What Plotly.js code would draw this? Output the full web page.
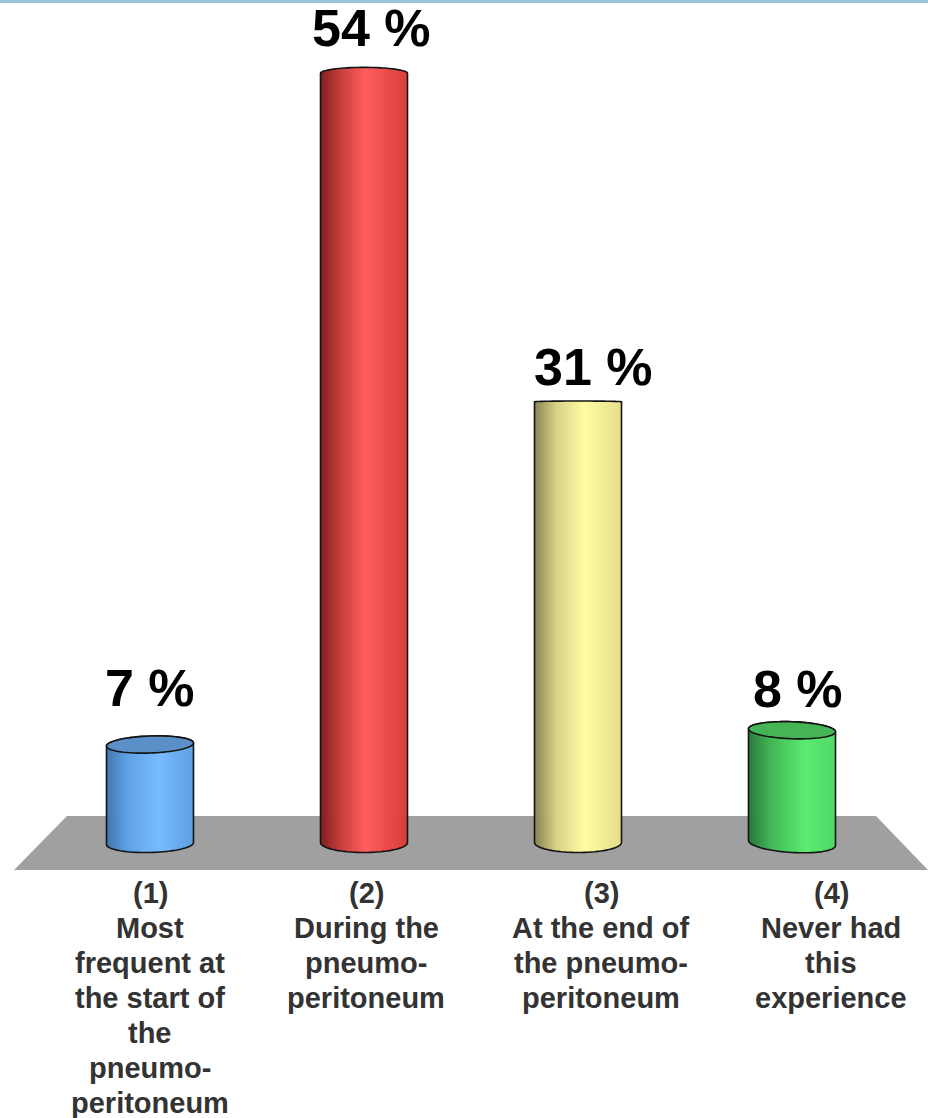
<!DOCTYPE html>
<html>
<head>
<meta charset="utf-8">
<script src="https://cdn.plot.ly/plotly-3.0.1.min.js"></script>
<style>html,body{margin:0;padding:0;background:#fff}#chart{width:928px;height:1118px}</style>
</head>
<body>
<div id="chart"></div>
<script>
// Survey answers, in percent
const answers = [1, 2, 3, 4];
const percentages = [7, 54, 31, 8];
const valueLabels = ['7 %', '54 %', '31 %', '8 %'];
const categoryLines = [
  ['(1)', 'Most', 'frequent at', 'the start of', 'the', 'pneumo-', 'peritoneum'],
  ['(2)', 'During the', 'pneumo-', 'peritoneum'],
  ['(3)', 'At the end of', 'the pneumo-', 'peritoneum'],
  ['(4)', 'Never had', 'this', 'experience']
];

// Canvas geometry
const W = 928, H = 1118;
const x0px = 150, xStep = 214;        // pixel centre of answer 1, spacing between answers
const y0px = 844.5, yScale = 14.28;   // pixel of 0 %, pixels per 1 %
const xRange = [(0 - x0px) / xStep + 1, (W - x0px) / xStep + 1];
const yRange = [(y0px - H) / yScale, y0px / yScale];
const pxX = p => p / xStep;           // horizontal pixel length in axis units
const pxY = p => p / yScale;          // vertical pixel length in axis units

// Cylinder look
const cylWidth = 87;
const stripPx = 2;
const shading = [
  [[0, '#3f74ad'], [0.25, '#5fa3e6'], [0.62, '#78bcff'], [1, '#5b9fe2']],
  [[0, '#7a1d1d'], [0.22, '#c43c3a'], [0.52, '#ff5f5f'], [1, '#d63c3a']],
  [[0, '#85804f'], [0.25, '#d8d086'], [0.58, '#fffca2'], [1, '#e6de8c']],
  [[0, '#27743a'], [0.25, '#41b555'], [0.66, '#5cec72'], [1, '#4fd866']]
];
const capFaces = ['#5b8fc8', null, null, '#45b455'];
const capRise = [8.5, 6, 0.8, 8.5];   // half height of the top ellipse, px
const capTilt = [-1.5, 0, 0, 1.5];    // rise of the ellipse towards its right end, px
const baseLift = [1, 2, 2, 1.5];      // bottom ellipse centre above the 0 % line, px
const baseDrop = [9, 10, 10, 9.5];    // half height of the bottom ellipse, px
const baseTilt = [-1, 0, 0, 2.5];

const hex = c => [1, 3, 5].map(i => parseInt(c.slice(i, i + 2), 16));
function shadeAt(stops, t) {
  for (let i = 1; i < stops.length; i++) {
    if (t <= stops[i][0]) {
      const f = (t - stops[i - 1][0]) / (stops[i][0] - stops[i - 1][0]);
      const a = hex(stops[i - 1][1]), b = hex(stops[i][1]);
      return 'rgb(' + a.map((v, k) => Math.round(v + (b[k] - v) * f)).join(',') + ')';
    }
  }
  return stops[stops.length - 1][1];
}

// Each cylinder is a run of narrow bars: the shading runs across them and
// their ends follow the curve of the top and bottom ellipses.
const nStrips = Math.round(cylWidth / stripPx);
const traces = answers.map((a, c) => {
  const xs = [], ys = [], bases = [], cols = [];
  for (let s = 0; s < nStrips; s++) {
    const t = (s + 0.5) / nStrips;
    const u = 2 * t - 1;
    const round = Math.sqrt(1 - u * u);
    const top = percentages[c] + pxY(capRise[c] * round - capTilt[c] * u);
    const bottom = pxY(baseLift[c] - baseDrop[c] * round - baseTilt[c] * u);
    xs.push(a + pxX(u * cylWidth / 2));
    bases.push(bottom);
    ys.push(top - bottom);
    cols.push(shadeAt(shading[c], t));
  }
  return {
    type: 'bar', x: xs, y: ys, base: bases, width: pxX(stripPx + 0.6),
    marker: { color: cols, line: { width: 0 } }, hoverinfo: 'skip', showlegend: false
  };
});

// Outline paths built in axis units
function arcPath(c, yMid, rise, tilt, from, to) {
  const pts = [];
  for (let i = 0; i <= 40; i++) {
    const ang = from + (to - from) * i / 40;
    const u = Math.cos(ang);
    const xv = answers[c] + pxX(u * cylWidth / 2);
    const yv = yMid + pxY(rise * Math.sin(ang) - tilt * u);
    pts.push((i ? 'L' : 'M') + xv.toFixed(5) + ',' + yv.toFixed(5));
  }
  return pts;
}
const ink = { color: '#141414', width: 1.6 };
const shapes = [
  // top band of the page
  { type: 'rect', xref: 'paper', yref: 'paper', x0: 0, x1: 1, y0: 1 - 3 / H, y1: 1,
    fillcolor: '#9dc4d6', line: { width: 0 }, layer: 'below' },
  // floor
  { type: 'path', xref: 'paper', yref: 'paper', layer: 'below',
    path: 'M' + 14 / W + ',' + (1 - 870 / H) + 'L' + 1 + ',' + (1 - 870 / H) +
          'L' + 876 / W + ',' + (1 - 816 / H) + 'L' + 67 / W + ',' + (1 - 816 / H) + 'Z',
    fillcolor: '#a0a0a0', line: { width: 0 } }
];
answers.forEach((a, c) => {
  const v = percentages[c];
  const upper = arcPath(c, v, capRise[c], capTilt[c], Math.PI, 0);
  const lower = arcPath(c, pxY(baseLift[c]), baseDrop[c], baseTilt[c], 0, -Math.PI).map(s => 'L' + s.slice(1));
  // body outline: over the top, down the right side, under the base, up the left side
  shapes.push({ type: 'path', path: upper.concat(lower).join('') + 'Z', line: ink, layer: 'above' });
  if (capFaces[c]) {
    // visible top face of the short cylinders
    const rim = arcPath(c, v, capRise[c], capTilt[c], Math.PI, 0)
      .concat(arcPath(c, v, capRise[c], capTilt[c], 0, -Math.PI).map(s => 'L' + s.slice(1)));
    shapes.push({ type: 'path', path: rim.join('') + 'Z', fillcolor: capFaces[c], line: ink, layer: 'above' });
  }
});

// Value labels above the cylinders and wrapped answer texts below the floor
const valueLabelX = [150, 371, 593.5, 798];
const valueLabelY = [688, 28, 367, 689];
const categoryX = [150, 366, 601, 831];
const firstLineY = 893, lineStep = 35;

const annotations = valueLabels.map((text, c) => ({
  text, xref: 'paper', yref: 'paper', x: valueLabelX[c] / W, y: 1 - valueLabelY[c] / H,
  xanchor: 'center', yanchor: 'middle', showarrow: false,
  font: { family: '"Liberation Sans", Arial, sans-serif', size: 52, weight: 700, color: '#000' }
}));
categoryLines.forEach((lines, c) => lines.forEach((text, i) => annotations.push({
  text, xref: 'paper', yref: 'paper', x: categoryX[c] / W, y: 1 - (firstLineY + i * lineStep) / H,
  xanchor: 'center', yanchor: 'middle', showarrow: false,
  font: { family: '"Liberation Sans", Arial, sans-serif', size: 29, weight: 700, color: '#333' }
})));

const hidden = { visible: false, fixedrange: true };
Plotly.newPlot('chart', traces, {
  width: W, height: H, margin: { l: 0, r: 0, t: 0, b: 0 },
  paper_bgcolor: '#fff', plot_bgcolor: '#fff', showlegend: false, barmode: 'overlay',
  xaxis: Object.assign({ range: xRange }, hidden),
  yaxis: Object.assign({ range: yRange }, hidden),
  shapes, annotations
}, { displayModeBar: false, staticPlot: true });
</script>
</body>
</html>
